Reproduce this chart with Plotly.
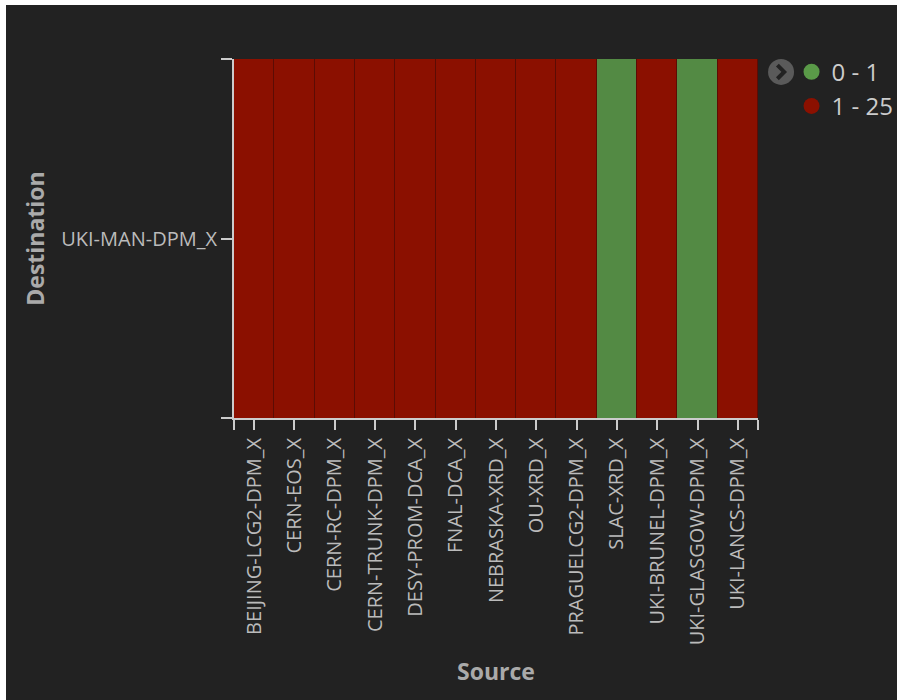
import plotly.graph_objects as go

# ---- data ----
sources = ["BEIJING-LCG2-DPM_X", "CERN-EOS_X", "CERN-RC-DPM_X", "CERN-TRUNK-DPM_X",
           "DESY-PROM-DCA_X", "FNAL-DCA_X", "NEBRASKA-XRD_X", "OU-XRD_X",
           "PRAGUELCG2-DPM_X", "SLAC-XRD_X", "UKI-BRUNEL-DPM_X", "UKI-GLASGOW-DPM_X",
           "UKI-LANCS-DPM_X"]
destinations = ["UKI-MAN-DPM_X"]
bins = ["0 - 1", "1 - 25"]
bin_colors = ["#538a44", "#8b1000"]
# bin of each source -> destination cell
cell_bins = ["1 - 25", "1 - 25", "1 - 25", "1 - 25", "1 - 25", "1 - 25", "1 - 25",
             "1 - 25", "1 - 25", "0 - 1", "1 - 25", "0 - 1", "1 - 25"]

BG = "#222222"
z = [[bins.index(b) for b in cell_bins]]
xs = list(range(len(sources)))

fig = go.Figure()
fig.add_trace(go.Heatmap(
    z=z, x=xs, y=[0],
    zmin=0, zmax=1,
    colorscale=[[0, bin_colors[0]], [0.5, bin_colors[0]], [0.5, bin_colors[1]], [1, bin_colors[1]]],
    showscale=False, xgap=1,
    customdata=[[s for s in sources]],
    hovertemplate="%{customdata}<extra></extra>",
))
legend_colors = ["#5a9a48", "#8b1000"]
for b, c in zip(bins, legend_colors):
    fig.add_trace(go.Scatter(x=[None], y=[None], mode="markers", name=b,
                             marker=dict(symbol="circle", size=20, color=c)))

n = len(sources)
# toggle button (decoration) geometry in paper units
cx, cy, rx, ry = 1.044, 0.964, 0.0248, 0.0362
fig.update_layout(
    width=891, height=695,
    paper_bgcolor=BG, plot_bgcolor="#5c0c04",
    margin=dict(l=228, r=139, t=54, b=282, autoexpand=False),
    font=dict(family="Open Sans", color="#bbbbbb", size=20),
    showlegend=True,
    legend=dict(x=1.064, xanchor="left", y=1.026, yanchor="top",
                font=dict(size=24, color="#cccccc"), bgcolor="rgba(0,0,0,0)",
                tracegroupgap=0),
    xaxis=dict(
        range=[-0.5, n - 0.5],
        tickvals=[-0.5] + xs + [n - 0.5],
        ticktext=[""] + sources + [""],
        tickangle=-90, ticks="outside", ticklen=10, tickwidth=2, tickcolor="#cccccc",
        showline=True, linecolor="#cccccc", linewidth=2, showgrid=False, zeroline=False,
        tickfont=dict(size=20, color="#bbbbbb"),
        title=dict(text="<b>Source</b>", font=dict(size=23, color="#aaaaaa"), standoff=20),
    ),
    yaxis=dict(
        range=[-0.5, 0.5],
        tickvals=[-0.5, 0, 0.5],
        ticktext=["", destinations[0], ""],
        ticks="outside", ticklen=11, tickwidth=2, tickcolor="#cccccc",
        showline=True, linecolor="#cccccc", linewidth=2, showgrid=False, zeroline=False,
        tickfont=dict(size=20, color="#bbbbbb"),
        title=dict(text="<b>Destination</b>", font=dict(size=23, color="#aaaaaa"), standoff=10),
    ),
    shapes=[
        dict(type="circle", xref="paper", yref="paper",
             x0=cx - rx, x1=cx + rx, y0=cy - ry, y1=cy + ry,
             fillcolor="#5a5a5a", line=dict(width=0)),
        dict(type="path", xref="paper", yref="paper",
             path=f"M {cx-0.007},{cy+0.019} L {cx+0.006},{cy} L {cx-0.007},{cy-0.019}",
             line=dict(color="#222222", width=4)),
    ],
)

fig.write_html("out.html", post_script="document.body.style.margin='5px 0 0 6px';document.body.style.background='#ffffff';")
